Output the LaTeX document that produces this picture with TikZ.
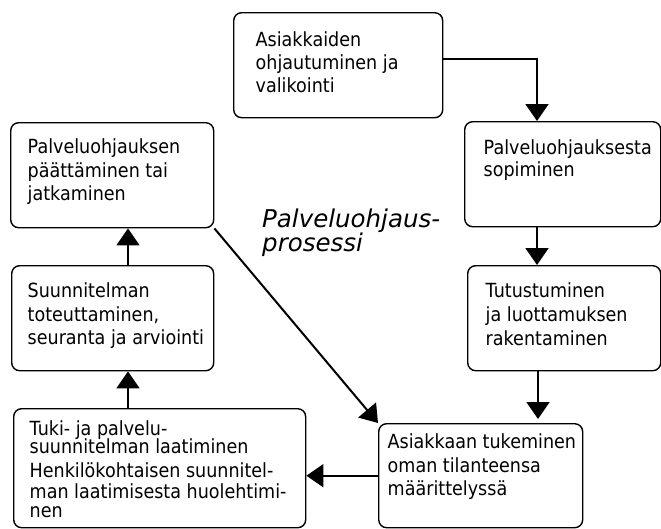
\documentclass[tikz,border=0pt]{standalone}
\usepackage{fontspec}
\setmainfont{DejaVu Sans}[FakeStretch=0.9]
\newfontfamily\titlefont{DejaVu Sans}
\usetikzlibrary{arrows.meta}
\newcommand\bx[5]{\begin{minipage}[t][#2pt][t]{#1pt}\raggedright\leftskip=#3pt\relax\rule{0pt}{#4pt}#5\end{minipage}}
\tikzset{
  stepbox/.style={draw, line width=1.4pt, rounded corners=8pt, inner sep=0pt, anchor=north west,
    font=\fontsize{19.5pt}{23.5pt}\selectfont},
  arr/.style={line width=2pt, -{Triangle[width=23pt,length=17pt]}}
}
\begin{document}
\begin{tikzpicture}[x=1pt,y=-1pt]
\useasboundingbox (0,0) rectangle (661,528);
\node[stepbox] (a) at (233,12) {\bx{209}{105}{22}{34}{\baselineskip=23pt Asiakkaiden\\ohjautuminen ja\\valikointi}};
\node[stepbox] (b) at (464,121) {\bx{196}{105}{19}{33}{\baselineskip=21.5pt Palveluohjauksesta\\sopiminen}};
\node[stepbox] (c) at (467,265) {\bx{193}{105}{18}{32}{\baselineskip=24pt Tutustuminen\\ja luottamuksen\\rakentaminen}};
\node[stepbox] (d) at (378,423) {\bx{204}{104}{9}{25}{\baselineskip=23.5pt Asiakkaan tukeminen\\oman tilanteensa\\määrittelyssä}};
\node[stepbox] (g) at (13,408) {\bx{292}{119}{16}{27}{\baselineskip=21pt Tuki- ja palvelu-\\[-3pt]suunnitelman laatiminen\\[3pt]Henkilökohtaisen suunnitel-\\man laatimisesta huolehtimi-\\[-2pt]nen}};
\node[stepbox] (f) at (11,265) {\bx{202}{105}{16}{32}{\baselineskip=23.5pt Suunnitelman\\toteuttaminen,\\seuranta ja arviointi}};
\node[stepbox] (e) at (10,122) {\bx{203}{105}{17}{31}{\baselineskip=23.5pt Palveluohjauksen\\päättäminen tai\\jatkaminen}};
\node[anchor=north west, inner sep=0pt] (title) at (262,200) {\bx{200}{60}{0}{27}{\titlefont\itshape\fontsize{24.5pt}{23pt}\selectfont Palveluohjaus-\\prosessi}};
\coordinate (colB) at (537,0);
\coordinate (colC) at (538,0);
\coordinate (colL) at (128,0);
\draw[arr] ([yshift=6.5pt]a.east) -| (b.north -| colB);
\draw[arr] (b.south -| colB) -- (c.north -| colB);
\draw[arr, shorten >=4pt] (c.south -| colC) -- (d.north -| colC);
\draw[arr] (d.west) -- (g.east |- d.west);
\draw[arr] (g.north -| colL) -- (f.south -| colL);
\draw[arr] (f.north -| colL) -- (e.south -| colL);
\draw[arr] (e.south east) -- (d.north west);
\end{tikzpicture}
\end{document}
